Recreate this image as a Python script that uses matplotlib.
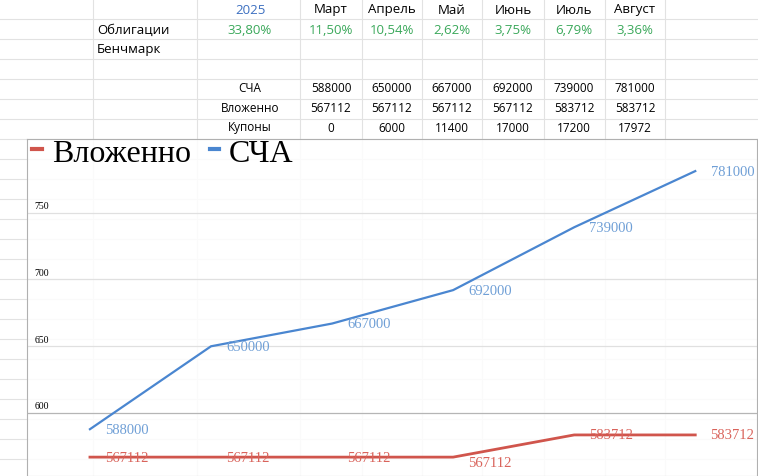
import matplotlib
matplotlib.use("Agg")
import matplotlib.pyplot as plt

months = ["Март", "Апрель", "Май", "Июнь", "Июль", "Август"]
bonds = ["33,80%", "11,50%", "10,54%", "2,62%", "3,75%", "6,79%", "3,36%"]
nav = [588000, 650000, 667000, 692000, 739000, 781000]
invested = [567112, 567112, 567112, 567112, 583712, 583712]
coupons = [0, 6000, 11400, 17000, 17200, 17972]
y_ticks = [600, 650, 700, 750]

W, H = 758, 477
fig = plt.figure(figsize=(W / 100, H / 100), dpi=100)


def px(x, y):
    return x / W, 1 - y / H


# spreadsheet grid behind the chart
bg = fig.add_axes([0, 0, 1, 1])
bg.set_xlim(0, W)
bg.set_ylim(H, 0)
bg.axis("off")
for yy in range(20, H, 20):
    bg.axhline(yy, color="#e2e2e2", lw=0.8)
for xx in [93, 197, 300, 362, 422, 482, 544, 605, 665]:
    bg.axvline(xx, color="#e2e2e2", lw=0.8)

col_x = [331, 392, 452, 513, 574, 635]
sans = "Open Sans"
green = "#3aa85a"
fig.text(*px(250, 10), "2025", color="#3c6fc0", ha="center", va="center", fontsize=9.5, family=sans)
for cx, m in zip(col_x, months):
    fig.text(*px(cx, 10), m, ha="center", va="center", fontsize=9.5, family=sans)
fig.text(*px(97, 30), "Облигации", ha="left", va="center", fontsize=9.5, family=sans)
fig.text(*px(97, 50), "Бенчмарк", ha="left", va="center", fontsize=9.5, family=sans)
for cx, b in zip([250] + col_x, bonds):
    fig.text(*px(cx, 30), b, color=green, ha="center", va="center", fontsize=9.5, family=sans)
for yy, name, row in [(89, "СЧА", nav), (109, "Вложенно", invested), (128, "Купоны", coupons)]:
    fig.text(*px(250, yy), name, ha="center", va="center", fontsize=8.5, family=sans)
    for cx, v in zip(col_x, row):
        fig.text(*px(cx, yy), str(v), ha="center", va="center", fontsize=8.5, family=sans)

# chart
ax = fig.add_axes([27 / W, 0, 730 / W, 337 / H])
ax.set_facecolor("white")
ax.patch.set_alpha(0.85)
for s in ax.spines.values():
    s.set_color("#b0b0b0")
x = list(range(len(months)))
blue, red = "#4a86d0", "#d0554c"
ax.plot(x, [v / 1000 for v in invested], color=red, lw=2, label="Вложенно")
ax.plot(x, [v / 1000 for v in nav], color=blue, lw=1.6, label="СЧА")
ax.set_xlim(-0.52, 5.51)
ax.set_ylim(553, 805)
for t in y_ticks:
    ax.axhline(t, color="#e0e0e0" if t != 600 else "#b5b5b5", lw=0.9, zorder=0)
    ax.text(-0.46, t + 2, str(t), fontsize=7, family="Liberation Serif", va="bottom")
ax.set_xticks([])
ax.set_yticks([])
for i, v in enumerate(nav):
    ax.annotate(str(v), (i, v / 1000), xytext=(11, 0), textcoords="offset points",
                color="#6f9fd6", fontsize=10.5, family="Liberation Serif", va="center")
for i, v in enumerate(invested):
    dy = -4 if i == 3 else 0
    ax.annotate(str(v), (i, v / 1000), xytext=(11, dy), textcoords="offset points",
                color="#d9635b", fontsize=10.5, family="Liberation Serif", va="center")
leg = ax.legend(loc="upper left", bbox_to_anchor=(-0.01, 1.04), frameon=False,
                prop={"family": "Liberation Serif", "size": 23}, handlelength=0.3,
                handletextpad=0.3, columnspacing=0.6, ncol=2, borderaxespad=0)
for h in leg.legend_handles:
    h.set_linewidth(3)

fig.savefig("out.png", dpi=100)
